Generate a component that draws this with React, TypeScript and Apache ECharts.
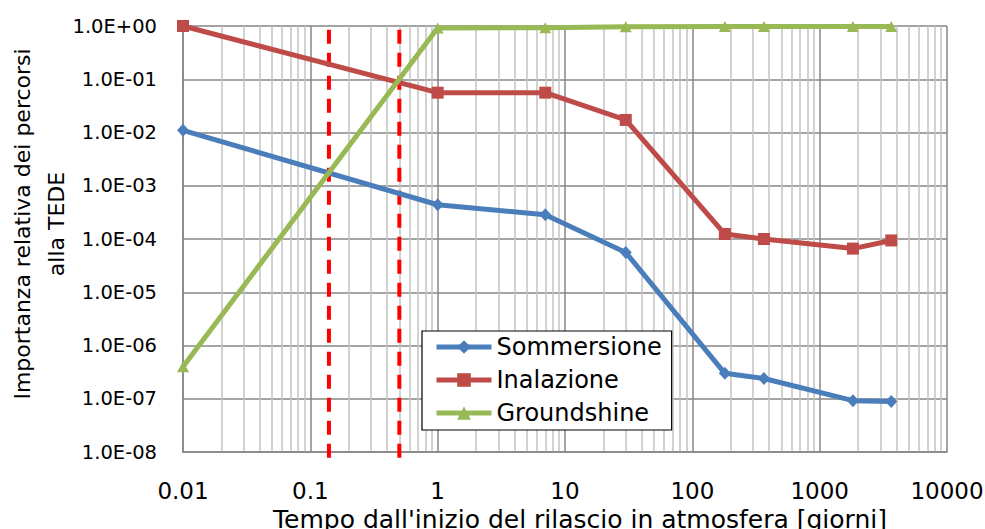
import React, { useEffect, useRef } from "react";
import * as echarts from "echarts";

// Time since release [days]
const days = [0.01, 1, 7, 30, 180, 365, 1825, 3650];
const sommersione = [1.1e-2, 4.4e-4, 2.85e-4, 5.6e-5, 3.0e-7, 2.4e-7, 9.2e-8, 8.9e-8];
const inalazione = [1.0, 5.6e-2, 5.6e-2, 1.72e-2, 1.24e-4, 1.0e-4, 6.6e-5, 9.4e-5];
const groundshine = [4.0e-7, 0.92, 0.93, 0.97, 0.98, 0.98, 0.98, 0.98];

// red dashed reference lines (x in days) and their vertical extent
const refDays = [0.14, 0.5];
const refSpan = [0.85, 6e-9];

// minor grid on the log x axis
const decades = [0.01, 0.1, 1, 10, 100, 1000];
const minorMultipliers = [2, 3, 4, 5, 6, 7, 8, 9];

const seriesNames = ["Sommersione", "Inalazione", "Groundshine"];
const seriesColors = ["#4A7EBB", "#BE4B48", "#98B954"];

const FONT = "DejaVu Sans";

function fmtY(v: number): string {
  const e = Math.round(Math.log10(v));
  const sign = e < 0 ? "-" : "+";
  const a = Math.abs(e);
  return "1.0E" + sign + (a < 10 ? "0" + a : String(a));
}

function fmtX(v: number): string {
  return String(Number(v.toPrecision(6)));
}

export default function App() {
  const ref = useRef<HTMLDivElement>(null);

  useEffect(() => {
    document.body.style.margin = "0";
    if (!ref.current) return;
    const chart = echarts.init(ref.current, undefined, { renderer: "svg" });

    const minorLines: any[] = [];
    decades.forEach((d) =>
      minorMultipliers.forEach((m) => minorLines.push({ xAxis: Number((d * m).toPrecision(6)) }))
    );

    const refSeries = refDays.map((d, i) => ({
      name: "ref" + i,
      type: "line",
      data: refSpan.map((y) => [d, y]),
      symbol: "none",
      clip: false,
      silent: true,
      z: 1,
      lineStyle: { color: "#FF0000", width: 4, type: [14, 9] },
      markLine:
        i === 0
          ? {
              silent: true,
              symbol: "none",
              label: { show: false },
              lineStyle: { color: "#C3C3C3", width: 1.5, type: "solid" },
              emphasis: { disabled: true },
              data: minorLines,
              z: 0,
            }
          : undefined,
    }));

    const symbols = ["diamond", "rect", "triangle"];
    const sizes: any[] = [[12, 13], 12, [12, 11]];
    const values = [sommersione, inalazione, groundshine];

    const mainSeries = seriesNames.map((name, i) => ({
      name,
      type: "line",
      data: days.map((d, j) => [d, values[i][j]]),
      symbol: symbols[i],
      symbolSize: sizes[i],
      showSymbol: true,
      z: 3,
      itemStyle: { color: seriesColors[i] },
      lineStyle: { color: seriesColors[i], width: 5 },
    }));

    chart.setOption({
      animation: false,
      textStyle: { fontFamily: FONT },
      grid: {
        left: 183,
        right: 38,
        top: 26,
        bottom: 77,
        containLabel: false,
        outerBoundsMode: "none",
      },
      legend: {
        data: seriesNames,
        orient: "vertical",
        left: 422,
        top: 331,
        backgroundColor: "#FFFFFF",
        borderColor: "#000000",
        borderWidth: 1.2,
        borderRadius: 0,
        padding: [3, 10, 4, 12],
        itemWidth: 55,
        itemHeight: 17,
        itemGap: 7,
        lineStyle: { width: 5 },
        textStyle: { fontFamily: FONT, fontSize: 24, lineHeight: 26, color: "#000" },
      },
      xAxis: {
        type: "log",
        logBase: 10,
        min: 0.01,
        max: 10000,
        splitNumber: 6,
        name: "Tempo dall'inizio del rilascio in atmosfera [giorni]",
        nameLocation: "middle",
        nameGap: 50,
        nameTextStyle: { fontFamily: FONT, fontSize: 25, color: "#000", padding: [0, 0, 0, 30] },
        axisLine: { show: true, lineStyle: { color: "#868686", width: 1.5 } },
        axisTick: { show: false },
        axisLabel: { fontFamily: FONT, fontSize: 23, color: "#000", margin: 27, formatter: fmtX },
        splitLine: { show: true, lineStyle: { color: "#868686", width: 1.5 } },
        minorTick: { show: false },
        minorSplitLine: { show: false },
      },
      yAxis: {
        type: "log",
        logBase: 10,
        min: 1e-8,
        max: 1,
        splitNumber: 8,
        axisLine: { show: true, lineStyle: { color: "#868686", width: 1.5 } },
        axisTick: { show: false },
        axisLabel: { fontFamily: FONT, fontSize: 19.5, color: "#000", margin: 26, formatter: fmtY },
        splitLine: { show: true, lineStyle: { color: "#868686", width: 1.5 } },
      },
      graphic: [
        {
          type: "text",
          x: 39,
          y: 224,
          rotation: Math.PI / 2,
          style: {
            text: "Importanza relativa dei percorsi\nalla TEDE",
            fontFamily: FONT,
            fontSize: 22,
            lineHeight: 34,
            fill: "#000",
            align: "center",
            verticalAlign: "middle",
          },
        },
      ],
      series: [...refSeries, ...mainSeries],
    });

    return () => chart.dispose();
  }, []);

  return <div ref={ref} style={{ width: 985, height: 529 }} />;
}
